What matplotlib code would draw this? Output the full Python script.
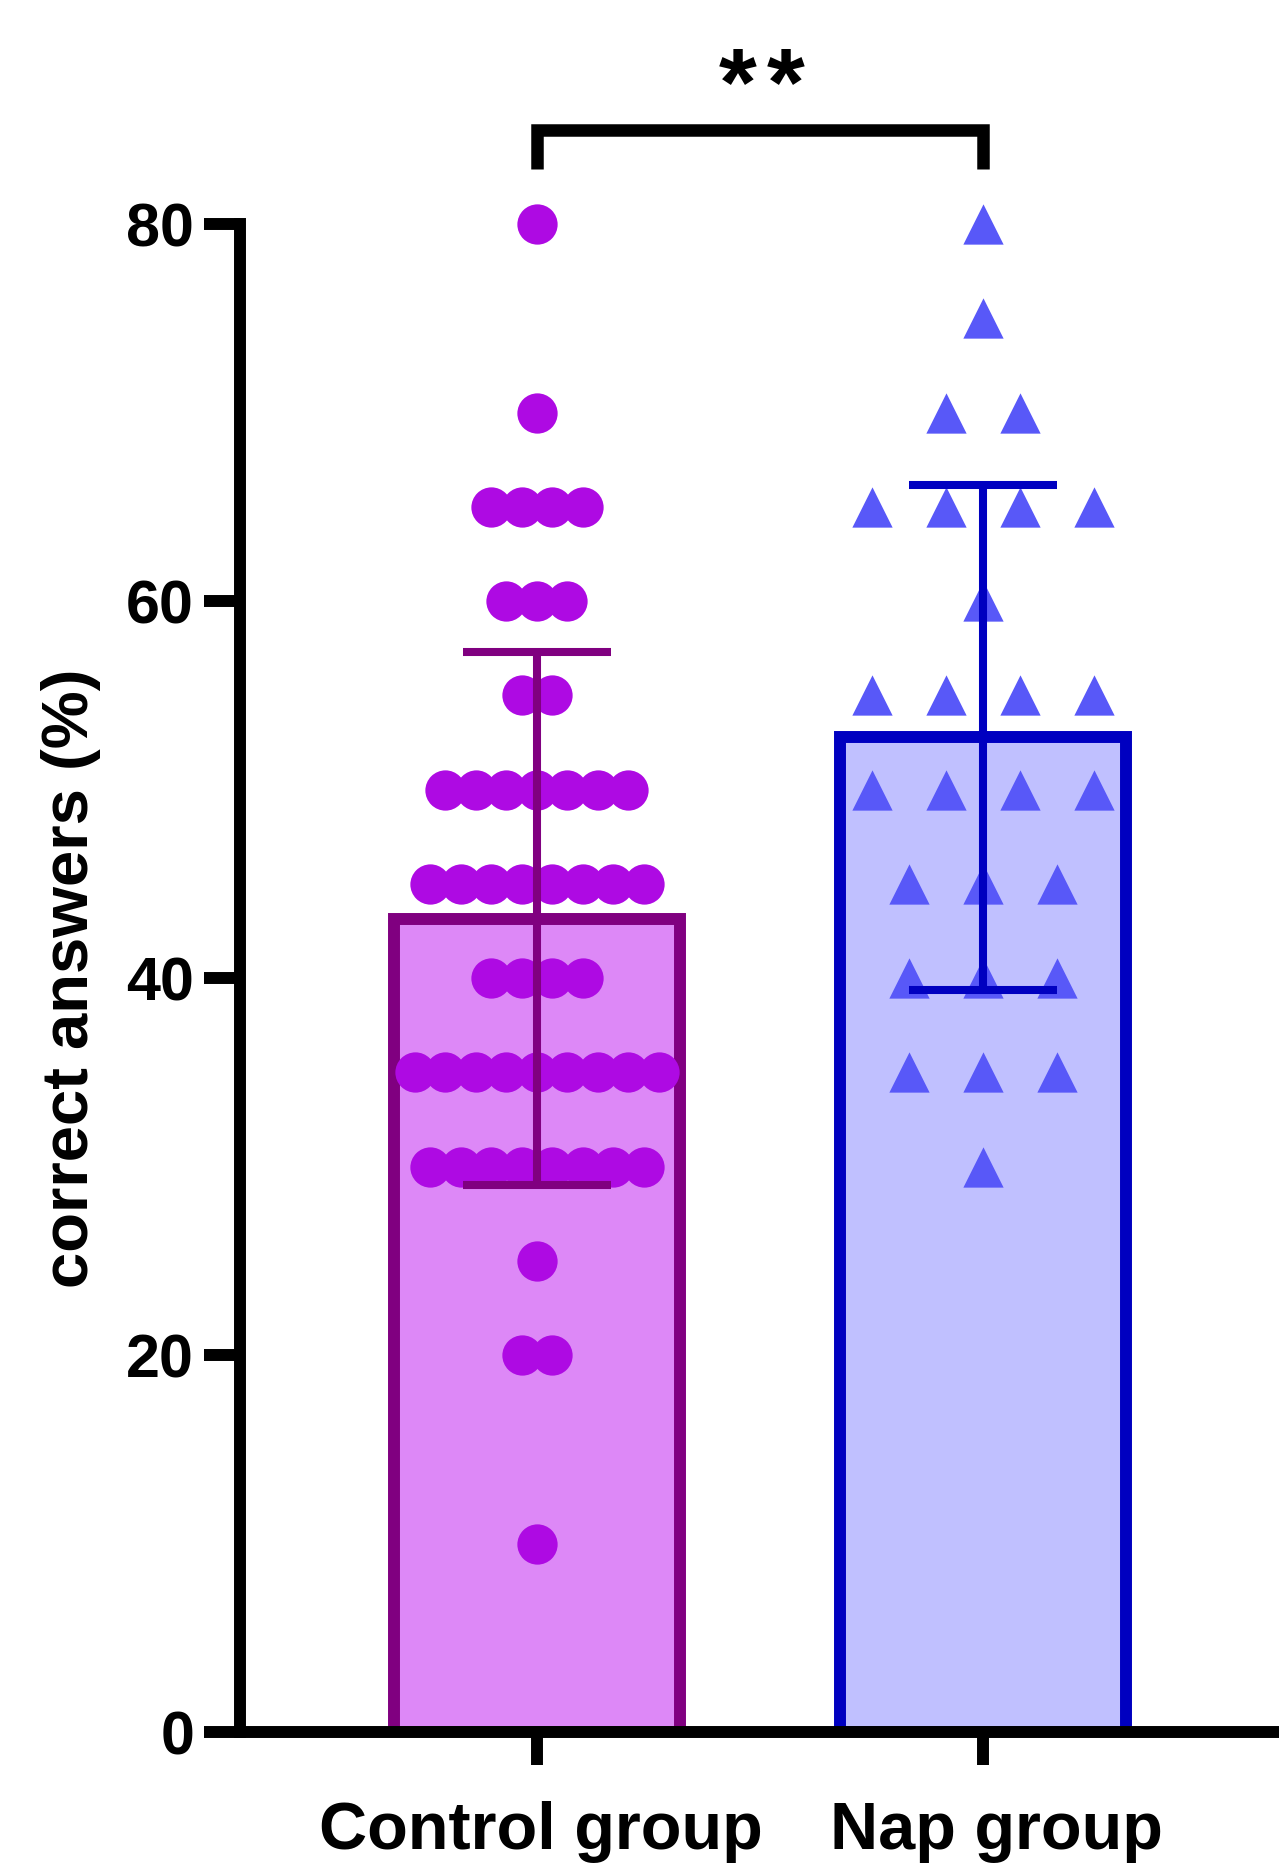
import numpy as np
import matplotlib
matplotlib.use("Agg")
import matplotlib.pyplot as plt
from matplotlib.transforms import ScaledTranslation

plt.rcParams["font.family"] = ["Liberation Sans", "DejaVu Sans"]
plt.rcParams["font.weight"] = "bold"

groups = ["Control group", "Nap group"]

# individual scores as (value, how many)
control_levels = [80, 70, 65, 60, 55, 50, 45, 40, 35, 30, 25, 20, 10]
control_counts = [1, 1, 4, 3, 2, 7, 8, 4, 9, 8, 1, 2, 1]
nap_levels = [80, 75, 70, 65, 60, 55, 50, 45, 40, 35, 30]
nap_counts = [1, 1, 2, 4, 1, 4, 4, 3, 3, 3, 1]

fill_colors = ["#dd88f7", "#c0c0ff"]
edge_colors = ["#800080", "#0000c0"]
point_colors = ["#ae0ae3", "#5858f8"]
markers = ["o", "^"]
spacings = [0.0684, 0.166]

control = np.repeat(control_levels, control_counts)
nap = np.repeat(nap_levels, nap_counts)
data = [control, nap]
means = [d.mean() for d in data]
sds = [d.std(ddof=1) for d in data]

fig = plt.figure(figsize=(12.79, 18.64), dpi=100)
ax = fig.add_axes([0.1876, 0.0708, 0.8124, 0.809])

x = np.arange(len(groups))
ax.bar(x, means, width=0.64, color=fill_colors, edgecolor=edge_colors,
       linewidth=8.6, zorder=2)

# centred rows of points for each score level
for i, d in enumerate(data):
    xs, ys = [], []
    for v in np.unique(d):
        n = np.sum(d == v)
        off = (np.arange(n) - (n - 1) / 2) * spacings[i]
        xs.extend(x[i] + off)
        ys.extend([v] * n)
    ax.scatter(xs, ys, s=29 ** 2, marker=markers[i], color=point_colors[i],
               linewidths=0, zorder=3, clip_on=False)

for i in range(len(groups)):
    ax.errorbar(x[i], means[i], yerr=sds[i], fmt="none", ecolor=edge_colors[i],
                elinewidth=5.8, capsize=53, capthick=5.8, zorder=4)

# significance bracket
ax.plot([0, 0, 1, 1], [82.9, 85, 85, 82.9], color="black", lw=9,
        solid_joinstyle="miter", solid_capstyle="butt", clip_on=False)
for dx in [-0.054, 0.054]:
    ax.text(0.504 + dx, 85.8, "*", ha="center", va="baseline", fontsize=70,
            fontweight="bold")

ax.set_xlim(-0.666, 1.664)
ax.set_ylim(0, 80)
ax.set_yticks([0, 20, 40, 60, 80])
ax.set_xticks(x)
ax.set_xticklabels(groups)

for side in ["top", "right"]:
    ax.spines[side].set_visible(False)
for side in ["left", "bottom"]:
    ax.spines[side].set_linewidth(8.6)
    ax.spines[side].set_capstyle("projecting")

ax.tick_params(axis="y", direction="out", length=26, width=8.6,
               labelsize=44, pad=7)
ax.tick_params(axis="x", direction="inout", length=47, width=8.6,
               labelsize=48, pad=26)

# Prism draws the group names slightly right of the ticks
for lab, dx in zip(ax.get_xticklabels(), [3, 10]):
    lab.set_transform(lab.get_transform() + ScaledTranslation(dx / 72, 0, fig.dpi_scale_trans))

ax.set_ylabel("correct answers (%)", fontsize=47, fontweight="bold")
ax.yaxis.set_label_coords(-0.134, 0.5)

fig.savefig("out.png", dpi=100)
